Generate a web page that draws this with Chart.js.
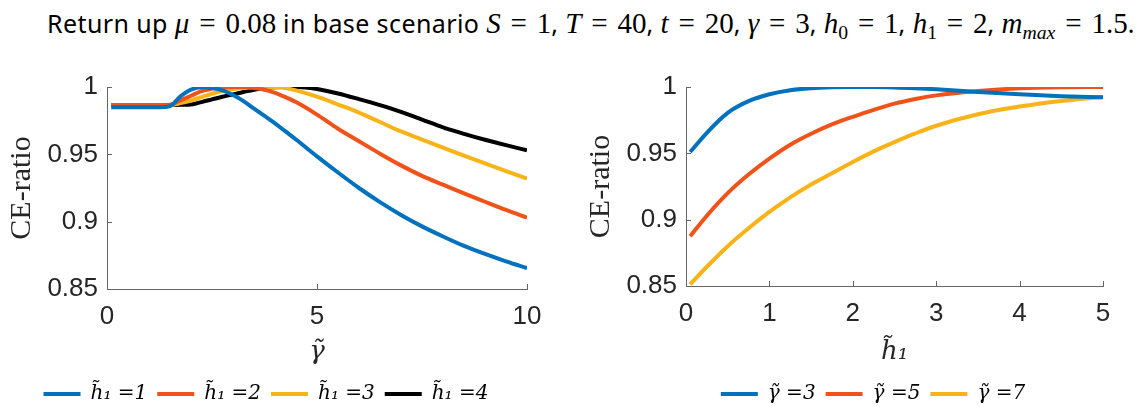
<!DOCTYPE html>
<html>
<head>
<meta charset="utf-8">
<script src="https://cdn.jsdelivr.net/npm/chart.js@4/dist/chart.umd.min.js"></script>
<style>
  html, body { margin: 0; padding: 0; background: #fff; width: 1139px; height: 407px; overflow: hidden; position: relative; }
  #title { position: absolute; left: 47px; top: 6px; white-space: nowrap; font: 25px "Noto Sans", sans-serif; letter-spacing: 0.4px; color: #000; }
  #title .m { font-family: "Liberation Serif", serif; font-size: 29px; letter-spacing: 0; }
  #title .eq { margin: 0 0.34em; }
  #title i { font-style: italic; }
  #title sub { font-size: 0.68em; vertical-align: -0.3em; line-height: 0; }
  canvas { position: absolute; top: 0; }
  #left { left: 0; }
  #right { left: 580px; }
</style>
</head>
<body>
<div id="title">Return up <span class="m"><i>μ</i><span class="eq">=</span>0.08</span> in base scenario <span class="m"><i>S</i><span class="eq">=</span>1</span>, <span class="m"><i>T</i><span class="eq">=</span>40</span>, <span class="m"><i>t</i><span class="eq">=</span>20</span>, <span class="m"><i>γ</i><span class="eq">=</span>3</span>, <span class="m"><i>h</i><sub>0</sub><span class="eq">=</span>1</span>, <span class="m"><i>h</i><sub>1</sub><span class="eq">=</span>2</span>, <span class="m"><i>m</i><sub><i>max</i></sub><span class="eq">=</span>1.5</span>.</div>
<canvas id="left" width="542" height="414"></canvas>
<canvas id="right" width="544" height="414"></canvas>
<script>
// left panel: CE-ratio against gamma~
const gammaX = [0.1, 0.5, 1, 1.25, 1.5, 1.75, 2, 2.25, 2.5, 2.75, 3, 3.25, 3.5, 3.75, 4, 4.25, 4.5, 5, 5.5, 6, 6.5, 7, 7.5, 8, 8.5, 9, 9.5, 10];
const ceH1_1 = [0.985, 0.985, 0.985, 0.985, 0.9858, 0.993, 0.998, 0.9998, 0.9993, 0.9975, 0.994, 0.9895, 0.984, 0.9785, 0.973, 0.967, 0.961, 0.9485, 0.9365, 0.925, 0.9145, 0.905, 0.8965, 0.889, 0.882, 0.876, 0.8705, 0.8655];
const ceH1_2 = [0.9866, 0.9866, 0.9866, 0.9866, 0.9868, 0.990, 0.9935, 0.997, 0.9988, 0.9998, 1.0, 1.0, 0.9993, 0.998, 0.9957, 0.9925, 0.9888, 0.9795, 0.969, 0.9597, 0.9505, 0.9418, 0.934, 0.9275, 0.921, 0.9148, 0.9087, 0.903];
const ceH1_3 = [0.9866, 0.9866, 0.9866, 0.9866, 0.9866, 0.988, 0.990, 0.9925, 0.995, 0.997, 0.9985, 0.9993, 0.9998, 1.0, 1.0, 0.9992, 0.9975, 0.9928, 0.987, 0.981, 0.974, 0.967, 0.961, 0.955, 0.949, 0.9432, 0.9375, 0.932];
const ceH1_4 = [0.9866, 0.9866, 0.9866, 0.9866, 0.9866, 0.9868, 0.987, 0.9888, 0.9908, 0.9928, 0.9945, 0.9963, 0.998, 0.9992, 0.9998, 1.0, 1.0, 0.9985, 0.9952, 0.991, 0.9865, 0.9815, 0.9758, 0.970, 0.9652, 0.9608, 0.9568, 0.953];
const leftLabels = ["h\u0303\u2081 =1", "h\u0303\u2081 =2", "h\u0303\u2081 =3", "h\u0303\u2081 =4"];

// right panel: CE-ratio against h1~
const h1X = [0.05, 0.25, 0.5, 0.75, 1, 1.25, 1.5, 1.75, 2, 2.25, 2.5, 2.75, 3, 3.5, 4, 4.5, 5];
const ceG3 = [0.951, 0.9655, 0.9805, 0.9893, 0.9945, 0.9976, 0.9991, 0.9998, 1.0, 1.0, 0.9997, 0.9991, 0.9983, 0.9963, 0.9945, 0.9931, 0.9922];
const ceG5 = [0.8875, 0.903, 0.920, 0.934, 0.946, 0.9565, 0.9648, 0.9718, 0.9775, 0.9828, 0.9875, 0.991, 0.9937, 0.997, 0.999, 0.9998, 1.0];
const ceG7 = [0.8513, 0.8645, 0.880, 0.8935, 0.9058, 0.9168, 0.9265, 0.935, 0.9435, 0.9515, 0.9585, 0.965, 0.9708, 0.9795, 0.9853, 0.9895, 0.9925];
const rightLabels = ["\u03b3\u0303 =3", "\u03b3\u0303 =5", "\u03b3\u0303 =7"];

const yTicks = [0.85, 0.9, 0.95, 1];
const colors = ["#0072BD", "#F0531A", "#F8B318", "#000000"];
const axisColor = "#666666";

document.addEventListener("DOMContentLoaded", draw_panels);

function toPoints(xs, ys) {
  return xs.map((x, i) => ({ x: x, y: ys[i] }));
}

const inwardTicks = {
  id: "inwardTicks",
  beforeDatasetsDraw(chart) {
    const { ctx, chartArea: a, scales: { x, y } } = chart;
    ctx.save();
    ctx.strokeStyle = axisColor;
    ctx.lineWidth = 1;
    ctx.beginPath();
    x.ticks.forEach(t => {
      const px = Math.round(x.getPixelForValue(t.value)) + 0.5;
      ctx.moveTo(px, a.bottom);
      ctx.lineTo(px, a.bottom - 5);
    });
    y.ticks.forEach(t => {
      const py = Math.round(y.getPixelForValue(t.value)) + 0.5;
      ctx.moveTo(a.left, py);
      ctx.lineTo(a.left + 5, py);
    });
    ctx.stroke();
    ctx.restore();
  }
};

function panelConfig(xs, series, labels, p) {
  return {
    type: "line",
    data: {
      datasets: series.map((ys, i) => ({
        label: labels[i],
        data: toPoints(xs, ys),
        borderColor: colors[i],
        backgroundColor: colors[i],
        borderWidth: 4,
        pointRadius: 0,
        fill: false,
        cubicInterpolationMode: "monotone"
      }))
    },
    options: {
      responsive: false,
      animation: false,
      layout: { padding: { left: p.padLeft, right: p.padRight, top: 87, bottom: 0 } },
      plugins: {
        tooltip: { enabled: false },
        legend: {
          position: "bottom",
          labels: {
            color: "#000",
            font: { family: "DejaVu Serif", size: 20, style: "italic" },
            boxWidth: 37,
            boxHeight: 4,
            padding: 10,
            generateLabels: chart => Chart.defaults.plugins.legend.labels.generateLabels(chart)
              .map(it => Object.assign(it, { lineWidth: 0, fillStyle: it.strokeStyle }))
          }
        }
      },
      scales: {
        x: {
          type: "linear",
          min: 0,
          max: p.xMax,
          grid: { display: false, drawTicks: false },
          border: { color: axisColor, width: 1 },
          ticks: { stepSize: p.xStep, padding: 12, color: "#262626", font: { family: "Liberation Sans", size: 26 } },
          title: {
            display: true,
            text: p.xTitle,
            color: "#262626",
            font: { family: "DejaVu Serif", size: 26, style: "italic" },
            padding: { top: 0, bottom: 6 }
          },
          afterFit: s => { s.height = p.xHeight; s.paddingLeft = 0; s.paddingRight = p.xPadRight; }
        },
        y: {
          min: 0.85,
          max: 1,
          grid: { display: false, drawTicks: false },
          border: { color: axisColor, width: 1 },
          afterBuildTicks: s => { s.ticks = yTicks.map(v => ({ value: v })); },
          ticks: {
            padding: 9,
            color: "#262626",
            font: { family: "Liberation Sans", size: 26 },
            callback: v => String(+v.toFixed(2))
          },
          title: {
            display: true,
            text: "CE-ratio",
            color: "#262626",
            font: { family: "Liberation Serif", size: 30 },
            padding: { top: p.yTitlePad, bottom: 0 }
          },
          afterFit: s => { s.width = p.yWidth; }
        }
      }
    },
    plugins: [inwardTicks]
  };
}

function draw_panels() {
  new Chart(document.querySelector("#left").getContext("2d"),
    panelConfig(gammaX, [ceH1_1, ceH1_2, ceH1_3, ceH1_4], leftLabels,
      { padLeft: 5, padRight: 15, xPadRight: 0, yWidth: 102, xHeight: 85, xMax: 10, xStep: 5, xTitle: "\u03b3\u0303", yTitlePad: -1 }));

  new Chart(document.querySelector("#right").getContext("2d"),
    panelConfig(h1X, [ceG3, ceG5, ceG7], rightLabels,
      { padLeft: 42, padRight: 0, xPadRight: 21, yWidth: 64, xHeight: 88, xMax: 5, xStep: 1, xTitle: "h\u0303\u2081", yTitlePad: -39 }));
}
</script>
</body>
</html>
